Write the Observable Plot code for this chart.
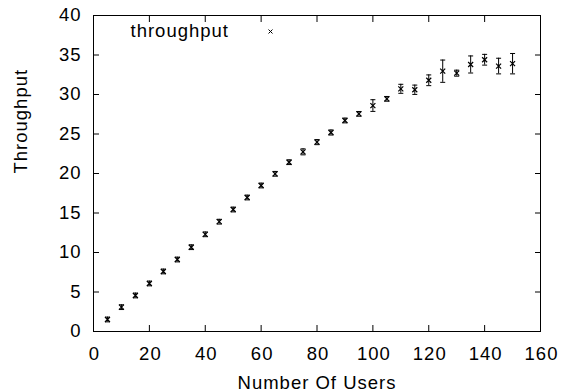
<!DOCTYPE html>
<html>
<head>
<meta charset="utf-8">
<script src="https://cdn.jsdelivr.net/npm/d3@7"></script>
<script src="https://cdn.jsdelivr.net/npm/@observablehq/plot@0.6"></script>
<style>
  html, body { margin: 0; padding: 0; background: #fff; }
</style>
</head>
<body>
<div id="chart"></div>
<script>
const users = [5,10,15,20,25,30,35,40,45,50,55,60,65,70,75,80,85,90,95,100,105,110,115,120,125,130,135,140,145,150];
const throughput = [1.52,3.08,4.56,6.08,7.6,9.11,10.67,12.3,13.9,15.44,16.96,18.48,19.96,21.43,22.74,23.97,25.19,26.71,27.55,28.6,29.45,30.72,30.6,31.8,32.95,32.7,33.8,34.4,33.6,33.9];
const errors = [0.3,0.3,0.3,0.3,0.3,0.3,0.3,0.3,0.3,0.3,0.3,0.3,0.3,0.3,0.38,0.32,0.32,0.3,0.3,0.74,0.3,0.57,0.59,0.68,1.41,0.38,1.08,0.68,0.99,1.29];
const xTicks = [0,20,40,60,80,100,120,140,160];
const yTicks = [0,5,10,15,20,25,30,35,40];
const seriesLabel = "throughput";
const xLabel = "Number Of Users";
const yLabel = "Throughput";

const data = users.map((u, i) => ({u, t: throughput[i], lo: throughput[i] - errors[i], hi: throughput[i] + errors[i]}));

const capSymbol = { draw(ctx) { ctx.moveTo(-2.5, 0); ctx.lineTo(2.5, 0); } };
const crossSymbol = { draw(ctx) { ctx.moveTo(-2.5, -2.5); ctx.lineTo(2.5, 2.5); ctx.moveTo(-2.5, 2.5); ctx.lineTo(2.5, -2.5); } };

const chart = Plot.plot({
  width: 561,
  height: 391,
  marginLeft: 93,
  marginRight: 21,
  marginTop: 15,
  marginBottom: 60,
  style: { fontFamily: "'Liberation Sans', Arial, sans-serif", fontSize: "18.5px", letterSpacing: "1px", color: "#000", background: "#fff" },
  x: { domain: [0, 160] },
  y: { domain: [0, 40] },
  marks: [
    Plot.frame({ stroke: "#000", strokeWidth: 1 }),
    Plot.axisX(xTicks, { anchor: "bottom", tickSize: 0, tickPadding: 15, label: null, fill: "#000", dx: 1 }),
    Plot.axisX(xTicks, { anchor: "bottom", tickSize: -6, tickFormat: () => "", label: null, stroke: "#000" }),
    Plot.axisX(xTicks, { anchor: "top", tickSize: -6, tickFormat: () => "", label: null, stroke: "#000" }),
    Plot.axisY(yTicks, { anchor: "left", tickSize: 0, tickPadding: 12, label: null, fill: "#000" }),
    Plot.axisY(yTicks, { anchor: "left", tickSize: -6, tickFormat: () => "", label: null, stroke: "#000" }),
    Plot.axisY(yTicks, { anchor: "right", tickSize: -6, tickFormat: () => "", label: null, stroke: "#000" }),
    Plot.ruleX(data, { x: "u", y1: "lo", y2: "hi", stroke: "#000", strokeWidth: 1 }),
    Plot.dot(data, { x: "u", y: "lo", symbol: capSymbol, stroke: "#000", strokeWidth: 1, fill: "none" }),
    Plot.dot(data, { x: "u", y: "hi", symbol: capSymbol, stroke: "#000", strokeWidth: 1, fill: "none" }),
    Plot.dot(data, { x: "u", y: "t", symbol: crossSymbol, stroke: "#000", strokeWidth: 1.2, fill: "none" }),
    Plot.text([seriesLabel], { text: d => d, frameAnchor: "top-left", dx: 37, dy: 16, textAnchor: "start", lineAnchor: "middle", fill: "#000" }),
    Plot.dot([seriesLabel], { frameAnchor: "top-left", dx: 177, dy: 16, symbol: { draw(ctx) { ctx.moveTo(-2, -2); ctx.lineTo(2, 2); ctx.moveTo(-2, 2); ctx.lineTo(2, -2); } }, stroke: "#000", strokeWidth: 1, fill: "none" }),
    Plot.text([xLabel], { text: d => d, frameAnchor: "bottom", dy: 57, lineAnchor: "bottom", fill: "#000" }),
    Plot.text([yLabel], { text: d => d, frameAnchor: "left", dx: -67, rotate: -90, lineAnchor: "bottom", fill: "#000" })
  ]
});
document.getElementById("chart").appendChild(chart);
</script>
</body>
</html>
